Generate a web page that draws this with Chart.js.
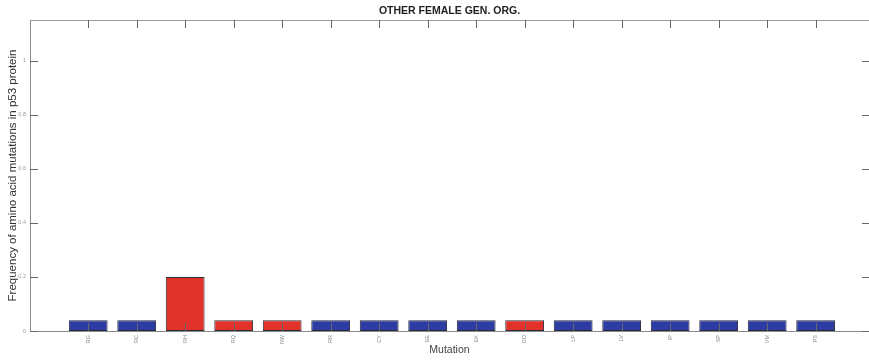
<!DOCTYPE html>
<html>
<head>
<meta charset="utf-8">
<script src="https://cdn.jsdelivr.net/npm/chart.js@4.4.1/dist/chart.umd.min.js"></script>
<style>
  html, body { margin: 0; padding: 0; background: #fff; }
  #wrap { width: 869px; height: 360px; }
</style>
</head>
<body>
<div id="wrap"><canvas id="c" width="869" height="360"></canvas></div>
<script>
// Amino acid substitutions (wild type -> mutant)
const mutations = ['RG', 'RC', 'RH', 'RQ', 'RW', 'RR', 'CY', 'EE', 'EK', 'GD', 'LP', 'LV', 'IP', 'SP', 'VM', 'PS'];
// Relative frequency of each substitution
const frequency = [0.04, 0.04, 0.20, 0.04, 0.04, 0.04, 0.04, 0.04, 0.04, 0.04, 0.04, 0.04, 0.04, 0.04, 0.04, 0.04];
// Substitutions at hotspot codons
const hotspot = [false, false, true, true, true, false, false, false, false, true, false, false, false, false, false, false];
// Y axis tick values
const yTicks = [0, 0.2, 0.4, 0.6, 0.8, 1];

const BLUE = '#2d3ca2';
const RED = '#e0322a';
const FONT = 'Liberation Sans, Arial, sans-serif';

// MATLAB-style frame: top box line plus inward tick marks on all four sides
const innerTicks = {
  id: 'innerTicks',
  afterDatasetsDraw(chart) {
    const { ctx, chartArea: a, scales: { x, y } } = chart;
    ctx.save();
    ctx.lineWidth = 1;
    ctx.strokeStyle = '#9a9a9a';
    ctx.beginPath();
    ctx.moveTo(a.left, Math.round(a.top) + 0.5);
    ctx.lineTo(a.right, Math.round(a.top) + 0.5);
    ctx.stroke();

    ctx.strokeStyle = '#666';
    ctx.beginPath();
    x.ticks.forEach(t => {
      const px = Math.round(x.getPixelForValue(t.value)) + 0.5;
      ctx.moveTo(px, a.bottom); ctx.lineTo(px, a.bottom - 8);
      ctx.moveTo(px, a.top); ctx.lineTo(px, a.top + 8);
    });
    y.ticks.forEach(t => {
      const py = Math.round(y.getPixelForValue(t.value)) + 0.5;
      ctx.moveTo(a.left, py); ctx.lineTo(a.left + 8, py);
      ctx.moveTo(a.right, py); ctx.lineTo(a.right - 7, py);
    });
    ctx.stroke();
    ctx.restore();
  }
};

new Chart(document.getElementById('c'), {
  type: 'bar',
  data: {
    datasets: [{
      data: frequency.map((v, i) => ({ x: i + 1, y: v })),
      backgroundColor: hotspot.map(h => h ? RED : BLUE),
      borderColor: '#2a2a3a',
      borderWidth: 1,
      borderSkipped: false,
      categoryPercentage: 1.0,
      barPercentage: 0.8
    }]
  },
  options: {
    responsive: false,
    animation: false,
    devicePixelRatio: 1,
    layout: { padding: { left: 0, right: 0, top: 0, bottom: 0 } },
    plugins: {
      legend: { display: false },
      tooltip: { enabled: false },
      title: {
        display: true,
        text: 'OTHER FEMALE GEN. ORG.',
        fullSize: false,
        color: '#222',
        font: { family: FONT, size: 10.5, weight: 'bold' },
        padding: { top: 5, bottom: 2.4 }
      }
    },
    scales: {
      x: {
        type: 'linear',
        offset: false,
        min: -0.2,
        max: 17.1,
        afterBuildTicks: s => { s.ticks = mutations.map((m, i) => ({ value: i + 1 })); },
        afterFit: s => { s.height = 29; },
        grid: { display: false, drawTicks: false, offset: false },
        border: { display: true, color: '#8a8a8a', width: 1 },
        ticks: {
          autoSkip: false,
          minRotation: 90,
          maxRotation: 90,
          padding: 4,
          color: '#8a8a8a',
          font: { family: FONT, size: 5.5 },
          callback: (v, i) => mutations[i]
        },
        title: {
          display: true,
          text: 'Mutation',
          color: '#444',
          font: { family: FONT, size: 10.5 },
          padding: { top: 0, bottom: 4 }
        }
      },
      y: {
        min: 0,
        max: 1.15,
        afterBuildTicks: s => { s.ticks = yTicks.map(v => ({ value: v })); },
        afterFit: s => { s.width = 30; },
        grid: { display: false, drawTicks: false },
        border: { display: true, color: '#8a8a8a', width: 1 },
        ticks: {
          padding: 4,
          color: '#999',
          font: { family: FONT, size: 5.5 },
          callback: v => String(v)
        },
        title: {
          display: true,
          text: 'Frequency of amino acid mutations in p53 protein',
          color: '#333',
          font: { family: FONT, size: 11.5 },
          padding: { top: 6, bottom: 0 }
        }
      }
    }
  },
  plugins: [innerTicks]
});
</script>
</body>
</html>
